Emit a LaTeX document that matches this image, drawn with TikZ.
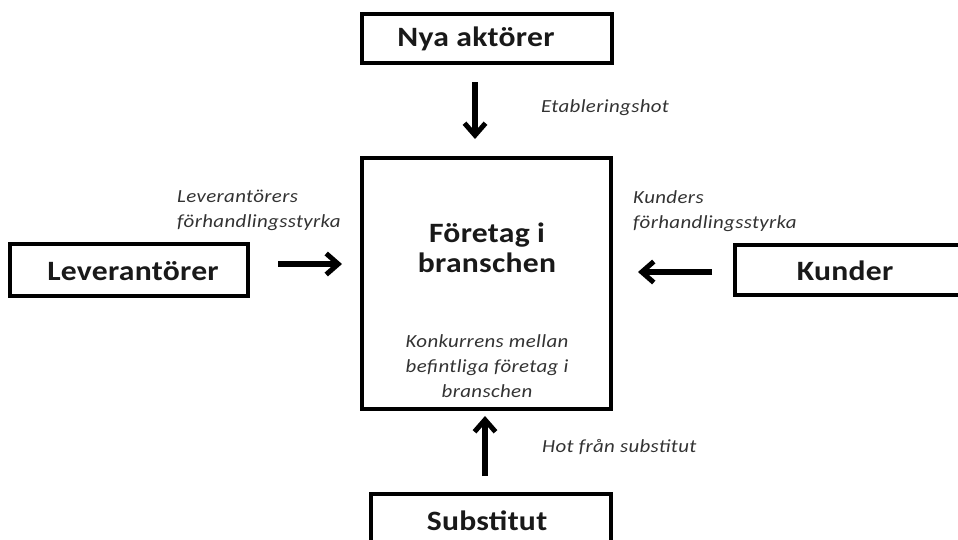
\documentclass[tikz,border=0pt]{standalone}
\usepackage{fontspec}
\setmainfont{Carlito}
\newfontfamily\boxfont[FakeStretch=1.13, LetterSpace=1]{Carlito}
\newfontfamily\notefont[FakeStretch=1.13, LetterSpace=2]{Carlito}
\usetikzlibrary{arrows.meta}
\tikzset{
  force/.style={draw=black, line width=3.2pt, fill=white, inner sep=0pt},
  label/.style={font=\boxfont\bfseries\fontsize{28}{30}\selectfont, text=black!90},
  main/.style={draw=black, line width=3.2pt, inner sep=0pt},
  title/.style={font=\boxfont\bfseries\fontsize{28}{30}\selectfont, align=center, text=black!90},
  note/.style={font=\notefont\itshape\fontsize{18.5}{25}\selectfont, text=black!80, inner sep=0pt},
  push/.style={line width=5.3pt, -{Straight Barb[length=12pt,width=21pt,line width=5pt]}}
}
\begin{document}
\begin{tikzpicture}[x=1pt,y=-1pt]
\useasboundingbox (0,0) rectangle (958,539);
\clip (0,0) rectangle (958,539);
\fill[white] (0,0) rectangle (958,539);

% the five forces
\node[force, minimum width=250, minimum height=49] (entrants) at (487,38.5) {};
\node[main, minimum width=249, minimum height=251] (firm) at (486.5,283.5) {};
\node[force, minimum width=238, minimum height=52] (suppliers) at (129,270) {};
\node[force, minimum width=240, minimum height=54] (substitutes) at (491,521) {};
\node[force, minimum width=240, minimum height=50] (customers) at (855,270) {};
\node[label] (entrantstext) at (476,39) {Nya aktörer};
\node[label] (supplierstext) at (133,271) {Leverantörer};
\node[label] (customerstext) at (845,271) {Kunder};
\node[label] (substitutestext) at (487,521) {Substitut};

% texts inside the industry box
\node[title] (firmtitle) at (487,248) {Företag i\\branschen};
\node[note, align=center] (rivalry) at (487,366) {Konkurrens mellan\\befintliga företag i\\branschen};

% arrow end points
\coordinate (entA) at (475,82);
\coordinate (entB) at (475,139);
\coordinate (supA) at (278,264);
\coordinate (supB) at (342,264);
\coordinate (cusA) at (712,272);
\coordinate (cusB) at (638,272);
\coordinate (subA) at (485,476);
\coordinate (subB) at (485,416);

\draw[push] (entA) -- (entB);
\draw[push] (supA) -- (supB);
\draw[push] (cusA) -- (cusB);
\draw[push] (subA) -- (subB);

% labels of the arrows
\node[note, anchor=west] (threat) at (541,108) {Etableringshot};
\node[note, anchor=west, align=left] (suppower) at (177,210) {Leverantörers\\förhandlingsstyrka};
\node[note, anchor=west, align=left] (cuspower) at (633,211) {Kunders\\förhandlingsstyrka};
\node[note, anchor=west] (subthreat) at (542,447) {Hot från substitut};
\end{tikzpicture}
\end{document}
